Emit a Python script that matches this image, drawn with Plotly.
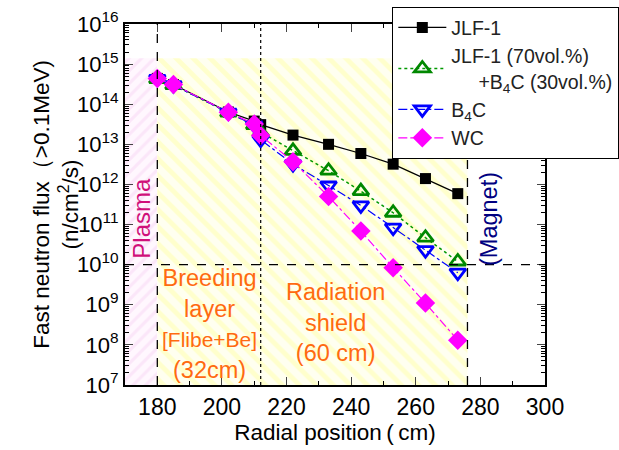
import plotly.graph_objects as go

# ---------------- data ----------------
radius = [180, 185, 202, 210, 212, 222, 233, 243, 253, 263, 273]
jlf1 = [4.4e14, 3.1e14, 6.4e13, 3.8e13, 3.1e13, 1.7e13, 1.0e13, 5.9e12, 3.2e12, 1.4e12, 5.9e11]
jlf1_b4c = [4.2e14, 3.0e14, 6.2e13, 3.0e13, 2.0e13, 6.9e12, 2.2e12, 6.8e11, 1.97e11, 4.7e10, 1.2e10]
b4c = [4.3e14, 3.0e14, 6.2e13, 3.0e13, 1.3e13, 3.2e12, 9.4e11, 3.0e11, 8.4e10, 2.3e10, 6.3e9]
wc = [4.4e14, 3.1e14, 6.3e13, 3.2e13, 1.66e13, 3.7e12, 5.0e11, 6.9e10, 8.4e9, 1.1e9, 1.3e8]

series_names = ["JLF-1",
                "JLF-1 (70vol.%)<br>\u00a0\u00a0\u00a0\u00a0\u00a0+B<sub>4</sub>C (30vol.%)",
                "B<sub>4</sub>C", "WC"]

x_ticks = [180, 200, 220, 240, 260, 280, 300]
y_exps = list(range(7, 17))
y_ticktext = [f"10<sup>{e}</sup>" for e in y_exps]

plasma_x = [170, 180]
blanket_x = [180, 276]
shade_y = [1e7, 1.4e15]
boundary_x = [180, 276]
shield_start = 212
limit_flux = 1e10

FONT = "Liberation Sans, Arial, sans-serif"

fig = go.Figure()

# shaded regions
fig.add_trace(go.Scatter(
    x=[plasma_x[0], plasma_x[1], plasma_x[1], plasma_x[0], plasma_x[0]],
    y=[shade_y[0], shade_y[0], shade_y[1], shade_y[1], shade_y[0]],
    fill="toself", mode="none", showlegend=False, hoverinfo="skip",
    fillcolor="rgba(0,0,0,0)",
    fillpattern=dict(shape="/", fgcolor="#F8D6F4", bgcolor="#FFF7FE", size=9, solidity=0.35)))
fig.add_trace(go.Scatter(
    x=[blanket_x[0], blanket_x[1], blanket_x[1], blanket_x[0], blanket_x[0]],
    y=[shade_y[0], shade_y[0], shade_y[1], shade_y[1], shade_y[0]],
    fill="toself", mode="none", showlegend=False, hoverinfo="skip",
    fillcolor="rgba(0,0,0,0)",
    fillpattern=dict(shape="\\", fgcolor="#FFFFA8", bgcolor="#FFFFF0", size=12, solidity=0.4)))

# data series
fig.add_trace(go.Scatter(
    x=radius, y=jlf1, name=series_names[0], mode="lines+markers",
    line=dict(color="black", width=1.2),
    marker=dict(symbol="square", size=11, color="black")))
fig.add_trace(go.Scatter(
    x=radius, y=jlf1_b4c, name=series_names[1], mode="lines+markers",
    line=dict(color="#009900", width=1.5, dash="dot"),
    marker=dict(symbol="triangle-up-open", size=14, color="#008800", line=dict(width=2.8))))
fig.add_trace(go.Scatter(
    x=radius, y=b4c, name=series_names[2], mode="lines+markers",
    line=dict(color="#0000FF", width=1.2, dash="dashdot"),
    marker=dict(symbol="triangle-down-open", size=14, color="#0000FF", line=dict(width=2.8))))
fig.add_trace(go.Scatter(
    x=radius, y=wc, name=series_names[3], mode="lines+markers",
    line=dict(color="#FF00FF", width=1.2, dash="dashdot"),
    marker=dict(symbol="diamond", size=15, color="#FF00FF")))

# reference lines
for bx in boundary_x:
    fig.add_shape(type="line", xref="x", yref="paper", x0=bx, x1=bx, y0=0, y1=1,
                  line=dict(color="black", width=1.3, dash="dash"))
fig.add_shape(type="line", xref="x", yref="paper", x0=shield_start, x1=shield_start, y0=0, y1=1,
              line=dict(color="black", width=1.2, dash="dot"))
fig.add_shape(type="line", xref="paper", yref="y", x0=0, x1=1, y0=limit_flux, y1=limit_flux,
              line=dict(color="black", width=1.3, dash="dash"))

# text labels
orange = "#FF6A10"
fig.add_annotation(x=175, y=11.15, xref="x", yref="y", text="Plasma", textangle=-90,
                   showarrow=False, font=dict(family=FONT, size=24, color="#D0107A"))
fig.add_annotation(x=282.5, y=11.15, xref="x", yref="y", text="(Magnet)", textangle=-90,
                   showarrow=False, font=dict(family=FONT, size=23.5, color="#000080"))
fig.add_annotation(x=196.3, y=8.52, xref="x", yref="y",
                   text="Breeding<br>layer<br><span style='font-size:21px'>[Flibe+Be]</span><br>(32cm)",
                   showarrow=False, font=dict(family=FONT, size=23.5, color=orange))
fig.add_annotation(x=235, y=8.57, xref="x", yref="y",
                   text="Radiation<br>shield<br>(60 cm)",
                   showarrow=False, font=dict(family=FONT, size=23.5, color=orange))

# y axis title
fig.add_annotation(x=-0.235, y=0.5, xref="paper", yref="paper", textangle=-90,
                   text="Fast neutron flux\uff08>0.1MeV)<br>(n/cm<sup>2</sup>/s)",
                   showarrow=False, font=dict(family=FONT, size=22.5, color="black"))

minor_y = [m * 10 ** e for e in range(7, 16) for m in range(2, 10)]

fig.update_layout(
    width=619, height=450,
    margin=dict(l=125, r=74, t=24, b=65, autoexpand=False),
    paper_bgcolor="white", plot_bgcolor="white",
    font=dict(family=FONT, size=22, color="black"),
    showlegend=True,
    legend=dict(x=0.636, y=1.047, xanchor="left", yanchor="top",
                bgcolor="white", bordercolor="black", borderwidth=1.2,
                font=dict(family=FONT, size=19.5, color="#222"),
                itemwidth=48, tracegroupgap=0),
    xaxis=dict(range=[170, 300], tickvals=x_ticks, ticks="inside", ticklen=8,
               tickwidth=1.2, showline=True, linecolor="black", linewidth=2,
               mirror="allticks", showgrid=False, zeroline=False,
               tickfont=dict(family=FONT, size=23),
               minor=dict(tickvals=[190, 210, 230, 250, 270, 290], ticks="inside", ticklen=4,
                          tickcolor="black", showgrid=False),
               title=dict(text="Radial position\u2009(\u2009cm)", font=dict(family=FONT, size=22.5),
                          standoff=4)),
    yaxis=dict(type="log", range=[7, 16], tickvals=[10 ** e for e in y_exps], ticktext=y_ticktext,
               ticks="inside", ticklen=8, tickwidth=1.2, showline=True, linecolor="black",
               linewidth=2, mirror="allticks", showgrid=False, zeroline=False,
               tickfont=dict(family=FONT, size=22),
               minor=dict(tickvals=minor_y, ticks="inside", ticklen=4, tickcolor="black",
                          showgrid=False)),
)

fig.write_html("out.html")
